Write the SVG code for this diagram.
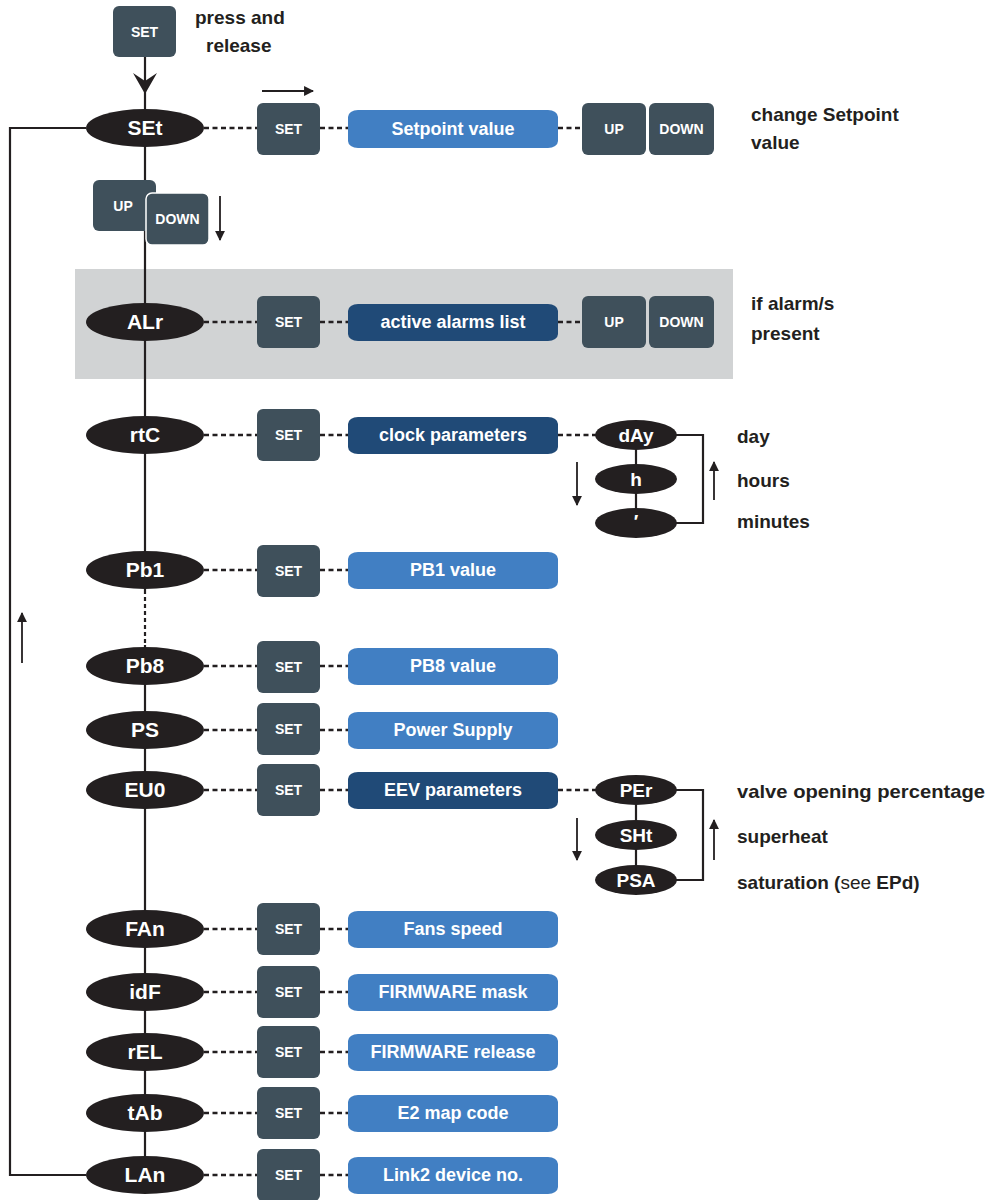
<svg xmlns="http://www.w3.org/2000/svg" width="989" height="1200" viewBox="0 0 989 1200">
<defs>
<style>
.ell{fill:#231f20}
.et{font-family:"Liberation Sans",Arial,sans-serif;font-weight:bold;font-size:21px;fill:#fff;text-anchor:middle}
.btn{fill:#3f505b}
.bt{font-family:"Liberation Sans",Arial,sans-serif;font-weight:bold;font-size:14px;fill:#fff;text-anchor:middle}
.lb{fill:#417fc3}
.db{fill:#204a77}
.vt{font-family:"Liberation Sans",Arial,sans-serif;font-weight:bold;font-size:18px;fill:#fff;text-anchor:middle}
.rt{font-family:"Liberation Sans",Arial,sans-serif;font-weight:bold;font-size:19px;fill:#231f20}
.ln{stroke:#231f20;stroke-width:2.2;fill:none}
.dash{stroke:#231f20;stroke-width:2.5;stroke-dasharray:5 3.5;fill:none}
.arr{stroke:#231f20;stroke-width:1.8;fill:none;marker-end:url(#ah)}
</style>
<marker id="ah" viewBox="0 0 10 10" refX="9" refY="5" markerWidth="5.5" markerHeight="5.5" orient="auto" markerUnits="strokeWidth">
<path d="M0,0 L10,5 L0,10 Z" fill="#231f20"/>
</marker>
</defs>
<rect x="75" y="269" width="658" height="110" fill="#d1d3d4"/>
<g id="connectors">
<path class="ln" d="M145,57 V109"/>
<path d="M145,94 L133,73 L145,81 L157,73 Z" fill="#231f20"/>
<path class="ln" d="M145,147 V590"/>
<path class="ln" d="M145,590 V645" stroke-dasharray="4 3"/>
<path class="ln" d="M145,645 V1160"/>
<path class="ln" d="M86,128 H10 V1175 H86"/>
<path class="arr" d="M22,663 V613"/>
<path class="arr" d="M262,91 H313"/>
<path class="arr" d="M220,196 V240"/>
<path class="dash" d="M204,128 H257 M320,128 H348 M558,128 H582"/>
<path class="dash" d="M204,322 H257 M320,322 H348 M558,322 H582"/>
<path class="dash" d="M204,435 H257 M320,435 H348 M558,435 H596"/>
<path class="dash" d="M204,570 H257 M320,570 H348"/>
<path class="dash" d="M204,666 H257 M320,666 H348"/>
<path class="dash" d="M204,730 H257 M320,730 H348"/>
<path class="dash" d="M204,790 H257 M320,790 H348 M558,790 H596"/>
<path class="dash" d="M204,929 H257 M320,929 H348"/>
<path class="dash" d="M204,992 H257 M320,992 H348"/>
<path class="dash" d="M204,1052 H257 M320,1052 H348"/>
<path class="dash" d="M204,1113 H257 M320,1113 H348"/>
<path class="dash" d="M204,1175 H257 M320,1175 H348"/>
<path class="ln" d="M636,450 V510 M676,435 H703 V523 H676"/>
<path class="arr" d="M714,500 V462"/>
<path class="arr" d="M577,462 V505"/>
<path class="ln" d="M636,805 V866 M676,790 H703 V880 H676"/>
<path class="arr" d="M714,860 V820"/>
<path class="arr" d="M577,818 V860"/>
</g>
<g id="top-set"><rect class="btn" x="113" y="6" width="63" height="51" rx="6"/><text class="bt" x="144.5" y="37">SET</text></g>
<text class="rt" x="195" y="24">press and</text>
<text class="rt" x="206" y="52">release</text>
<g id="n-SEt"><ellipse class="ell" cx="145" cy="128" rx="59" ry="19"/><text class="et" x="145" y="135">SEt</text></g>
<g id="b-SEt"><rect class="btn" x="257" y="103" width="63" height="52" rx="6"/><text class="bt" x="288.5" y="134">SET</text></g>
<g id="v-SEt"><rect class="lb" x="348" y="110" width="210" height="38" rx="10" ry="7"/><text class="vt" x="453" y="135">Setpoint value</text></g>
<g id="up1"><rect class="btn" x="582" y="103" width="64" height="52" rx="6"/><text class="bt" x="614" y="134">UP</text></g>
<g id="down1"><rect class="btn" x="649" y="103" width="65" height="52" rx="6"/><text class="bt" x="681.5" y="134">DOWN</text></g>
<text class="rt" x="751" y="121">change Setpoint</text>
<text class="rt" x="751" y="149">value</text>
<g id="up2"><rect class="btn" x="93" y="180" width="63" height="51" rx="6"/><text class="bt" x="123" y="211">UP</text></g>
<g id="down2"><rect class="btn" x="146" y="193" width="63" height="52" rx="6" stroke="#fff" stroke-width="1.5"/><text class="bt" x="177.5" y="224">DOWN</text></g>
<g id="n-ALr"><ellipse class="ell" cx="145" cy="322" rx="59" ry="19"/><text class="et" x="145" y="329">ALr</text></g>
<g id="b-ALr"><rect class="btn" x="257" y="296" width="63" height="52" rx="6"/><text class="bt" x="288.5" y="327">SET</text></g>
<g id="v-ALr"><rect class="db" x="348" y="304" width="210" height="37" rx="10" ry="7"/><text class="vt" x="453" y="328">active alarms list</text></g>
<g id="up3"><rect class="btn" x="582" y="296" width="64" height="52" rx="6"/><text class="bt" x="614" y="327">UP</text></g>
<g id="down3"><rect class="btn" x="649" y="296" width="65" height="52" rx="6"/><text class="bt" x="681.5" y="327">DOWN</text></g>
<text class="rt" x="751" y="310">if alarm/s</text>
<text class="rt" x="751" y="340">present</text>
<g id="n-rtC"><ellipse class="ell" cx="145" cy="435" rx="59" ry="19"/><text class="et" x="145" y="442">rtC</text></g>
<g id="b-rtC"><rect class="btn" x="257" y="409" width="63" height="52" rx="6"/><text class="bt" x="288.5" y="440">SET</text></g>
<g id="v-rtC"><rect class="db" x="348" y="417" width="210" height="37" rx="10" ry="7"/><text class="vt" x="453" y="441">clock parameters</text></g>
<g id="n-dAy"><ellipse class="ell" cx="636" cy="435" rx="41" ry="15"/><text class="et" x="636" y="442" style="font-size:19px">dAy</text></g>
<g id="n-h"><ellipse class="ell" cx="636" cy="479" rx="41" ry="15"/><text class="et" x="636" y="486" style="font-size:19px">h</text></g>
<g id="n-min"><ellipse class="ell" cx="636" cy="523" rx="41" ry="15"/><text class="et" x="636" y="528" style="font-size:19px">′</text></g>
<text class="rt" x="737" y="443">day</text>
<text class="rt" x="737" y="487">hours</text>
<text class="rt" x="737" y="528">minutes</text>
<g id="n-Pb1"><ellipse class="ell" cx="145" cy="570" rx="59" ry="19"/><text class="et" x="145" y="577">Pb1</text></g>
<g id="b-Pb1"><rect class="btn" x="257" y="545" width="63" height="52" rx="6"/><text class="bt" x="288.5" y="576">SET</text></g>
<g id="v-Pb1"><rect class="lb" x="348" y="552" width="210" height="37" rx="10" ry="7"/><text class="vt" x="453" y="576">PB1 value</text></g>
<g id="n-Pb8"><ellipse class="ell" cx="145" cy="666" rx="59" ry="19"/><text class="et" x="145" y="673">Pb8</text></g>
<g id="b-Pb8"><rect class="btn" x="257" y="641" width="63" height="52" rx="6"/><text class="bt" x="288.5" y="672">SET</text></g>
<g id="v-Pb8"><rect class="lb" x="348" y="648" width="210" height="37" rx="10" ry="7"/><text class="vt" x="453" y="672">PB8 value</text></g>
<g id="n-PS"><ellipse class="ell" cx="145" cy="730" rx="59" ry="19"/><text class="et" x="145" y="737">PS</text></g>
<g id="b-PS"><rect class="btn" x="257" y="703" width="63" height="52" rx="6"/><text class="bt" x="288.5" y="734">SET</text></g>
<g id="v-PS"><rect class="lb" x="348" y="712" width="210" height="37" rx="10" ry="7"/><text class="vt" x="453" y="736">Power Supply</text></g>
<g id="n-EU0"><ellipse class="ell" cx="145" cy="790" rx="59" ry="19"/><text class="et" x="145" y="797">EU0</text></g>
<g id="b-EU0"><rect class="btn" x="257" y="764" width="63" height="52" rx="6"/><text class="bt" x="288.5" y="795">SET</text></g>
<g id="v-EU0"><rect class="db" x="348" y="772" width="210" height="37" rx="10" ry="7"/><text class="vt" x="453" y="796">EEV parameters</text></g>
<g id="n-PEr"><ellipse class="ell" cx="636" cy="790" rx="41" ry="15"/><text class="et" x="636" y="797" style="font-size:19px">PEr</text></g>
<g id="n-SHt"><ellipse class="ell" cx="636" cy="835" rx="41" ry="15"/><text class="et" x="636" y="842" style="font-size:19px">SHt</text></g>
<g id="n-PSA"><ellipse class="ell" cx="636" cy="880" rx="41" ry="15"/><text class="et" x="636" y="887" style="font-size:19px">PSA</text></g>
<text class="rt" x="737" y="798" textLength="248" lengthAdjust="spacingAndGlyphs">valve opening percentage</text>
<text class="rt" x="737" y="843">superheat</text>
<text class="rt" x="737" y="889">saturation (<tspan font-weight="normal">see</tspan> EPd)</text>
<g id="n-FAn"><ellipse class="ell" cx="145" cy="929" rx="59" ry="19"/><text class="et" x="145" y="936">FAn</text></g>
<g id="b-FAn"><rect class="btn" x="257" y="903" width="63" height="52" rx="6"/><text class="bt" x="288.5" y="934">SET</text></g>
<g id="v-FAn"><rect class="lb" x="348" y="911" width="210" height="37" rx="10" ry="7"/><text class="vt" x="453" y="935">Fans speed</text></g>
<g id="n-idF"><ellipse class="ell" cx="145" cy="992" rx="59" ry="19"/><text class="et" x="145" y="999">idF</text></g>
<g id="b-idF"><rect class="btn" x="257" y="966" width="63" height="52" rx="6"/><text class="bt" x="288.5" y="997">SET</text></g>
<g id="v-idF"><rect class="lb" x="348" y="974" width="210" height="37" rx="10" ry="7"/><text class="vt" x="453" y="998">FIRMWARE mask</text></g>
<g id="n-rEL"><ellipse class="ell" cx="145" cy="1052" rx="59" ry="19"/><text class="et" x="145" y="1059">rEL</text></g>
<g id="b-rEL"><rect class="btn" x="257" y="1026" width="63" height="52" rx="6"/><text class="bt" x="288.5" y="1057">SET</text></g>
<g id="v-rEL"><rect class="lb" x="348" y="1034" width="210" height="37" rx="10" ry="7"/><text class="vt" x="453" y="1058">FIRMWARE release</text></g>
<g id="n-tAb"><ellipse class="ell" cx="145" cy="1113" rx="59" ry="19"/><text class="et" x="145" y="1120">tAb</text></g>
<g id="b-tAb"><rect class="btn" x="257" y="1087" width="63" height="52" rx="6"/><text class="bt" x="288.5" y="1118">SET</text></g>
<g id="v-tAb"><rect class="lb" x="348" y="1095" width="210" height="37" rx="10" ry="7"/><text class="vt" x="453" y="1119">E2 map code</text></g>
<g id="n-LAn"><ellipse class="ell" cx="145" cy="1175" rx="59" ry="19"/><text class="et" x="145" y="1182">LAn</text></g>
<g id="b-LAn"><rect class="btn" x="257" y="1149" width="63" height="52" rx="6"/><text class="bt" x="288.5" y="1180">SET</text></g>
<g id="v-LAn"><rect class="lb" x="348" y="1157" width="210" height="37" rx="10" ry="7"/><text class="vt" x="453" y="1181">Link2 device no.</text></g>
</svg>
